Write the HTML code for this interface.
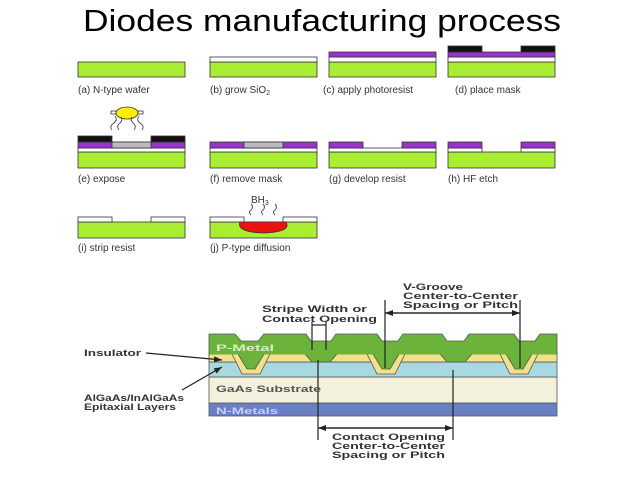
<!DOCTYPE html>
<html><head><meta charset="utf-8"><style>
html,body{margin:0;padding:0;background:#fff;}
svg{display:block;}
text{font-family:"Liberation Sans",sans-serif;}
</style></head><body>
<svg width="638" height="479" viewBox="0 0 638 479" xmlns="http://www.w3.org/2000/svg">
<defs>
<marker id="ar" markerWidth="8" markerHeight="6" refX="8" refY="3" orient="auto" markerUnits="userSpaceOnUse"><path d="M0,0 L8,3 L0,6 z" fill="#222"/></marker>
</defs>
<text x="83" y="31" font-size="31" fill="#000" textLength="478" lengthAdjust="spacingAndGlyphs">Diodes manufacturing process</text>

<g stroke="#333" stroke-width="0.8">
<rect x="78" y="62" width="107" height="15" fill="#aaee33"/>
<rect x="210" y="62" width="107" height="15" fill="#aaee33"/>
<rect x="210" y="57" width="107" height="5" fill="#fff"/>
<rect x="329" y="62" width="107" height="15" fill="#aaee33"/>
<rect x="329" y="57" width="107" height="5" fill="#fff"/>
<rect x="329" y="52" width="107" height="5" fill="#9933cc"/>
<rect x="448" y="62" width="107" height="15" fill="#aaee33"/>
<rect x="448" y="57" width="107" height="5" fill="#fff"/>
<rect x="448" y="52" width="107" height="5" fill="#9933cc"/>
<rect x="448" y="46" width="34" height="6" fill="#111"/>
<rect x="521" y="46" width="34" height="6" fill="#111"/>
<rect x="78" y="152" width="107" height="16" fill="#aaee33"/>
<rect x="78" y="148" width="107" height="4" fill="#fff"/>
<rect x="78" y="142" width="107" height="6" fill="#9933cc"/>
<rect x="112" y="142" width="39" height="6" fill="#bbb"/>
<rect x="78" y="136" width="34" height="6" fill="#111"/>
<rect x="151" y="136" width="34" height="6" fill="#111"/>
<ellipse cx="127" cy="113" rx="11" ry="6" fill="#ffee00"/>
<rect x="111" y="111" width="5" height="3" fill="#fff"/>
<rect x="138" y="111" width="5" height="3" fill="#fff"/>
<rect x="210" y="152" width="107" height="16" fill="#aaee33"/>
<rect x="210" y="148" width="107" height="4" fill="#fff"/>
<rect x="210" y="142" width="107" height="6" fill="#9933cc"/>
<rect x="244" y="142" width="39" height="6" fill="#bbb"/>
<rect x="329" y="152" width="107" height="16" fill="#aaee33"/>
<rect x="329" y="148" width="107" height="4" fill="#fff"/>
<rect x="329" y="142" width="34" height="6" fill="#9933cc"/>
<rect x="402" y="142" width="34" height="6" fill="#9933cc"/>
<rect x="448" y="152" width="107" height="16" fill="#aaee33"/>
<rect x="448" y="148" width="34" height="4" fill="#fff"/>
<rect x="521" y="148" width="34" height="4" fill="#fff"/>
<rect x="448" y="142" width="34" height="6" fill="#9933cc"/>
<rect x="521" y="142" width="34" height="6" fill="#9933cc"/>
<rect x="78" y="222" width="107" height="16" fill="#aaee33"/>
<rect x="78" y="217" width="34" height="5" fill="#fff"/>
<rect x="151" y="217" width="34" height="5" fill="#fff"/>
<rect x="210" y="222" width="107" height="16" fill="#aaee33"/>
<rect x="210" y="217" width="34" height="5" fill="#fff"/>
<rect x="283" y="217" width="34" height="5" fill="#fff"/>
<path d="M240,222 L286,222 Q292,232 263,233 Q236,232 240,222 z" fill="#ee1111"/>
</g>
<g fill="none" stroke="#444" stroke-width="0.9">
<path d="M112,130 q-3,-4 2,-7 q4,-3 1,-7"/>
<path d="M119,130 q-3,-4 1,-7 q3,-3 1,-6"/>
<path d="M134,130 q3,-4 -1,-7 q-3,-3 -1,-6"/>
<path d="M142,130 q3,-4 -2,-7 q-4,-3 -1,-7"/>
<path d="M251,215 q-3,-3 0,-5 q3,-3 0,-6"/>
<path d="M263,215 q-3,-3 0,-5 q3,-3 0,-6"/>
<path d="M275,215 q-3,-3 0,-5 q3,-3 0,-6"/>
</g>
<g font-size="10" fill="#333">
<text x="78" y="93">(a) N-type wafer</text>
<text x="210" y="93">(b) grow SiO<tspan font-size="7" dy="2">2</tspan></text>
<text x="323" y="93">(c) apply photoresist</text>
<text x="455" y="93">(d) place mask</text>
<text x="78" y="182">(e) expose</text>
<text x="210" y="182">(f) remove mask</text>
<text x="329" y="182">(g) develop resist</text>
<text x="448" y="182">(h) HF etch</text>
<text x="78" y="251">(i) strip resist</text>
<text x="210" y="251">(j) P-type diffusion</text>
<text x="251" y="203">BH<tspan font-size="7" dy="2">3</tspan></text>
</g>

<g stroke="#555" stroke-width="0.8">
<rect x="209" y="403" width="348" height="13" fill="#6a80c4"/>
<rect x="209" y="377" width="348" height="26" fill="#f3f0dc"/>
<rect x="209" y="362" width="348" height="15" fill="#a8d8e2"/>
<rect x="209" y="354" width="348" height="8" fill="#f2e08a"/>
<polygon points="232,354 270,354 260,374 242,374" fill="#f2e08a"/>
<polygon points="367,354 405,354 395,374 377,374" fill="#f2e08a"/>
<polygon points="500,354 538,354 528,374 510,374" fill="#f2e08a"/>
<polygon points="305,354 337,354 330,362 312,362" fill="#6bb33a"/>
<polygon points="440,354 472,354 465,362 447,362" fill="#6bb33a"/>
<path d="M209,334 L235,334 L241,341 L258,341 L264,334 L306,334 L311,341 L331,341 L336,334 L377,334 L382,341 L398,341 L403,334 L442,334 L447,341 L464,341 L469,334 L514,334 L519,341 L535,341 L540,334 L557,334 L557,354 L209,354 z" fill="#6bb33a"/>
<polygon points="238,354 264,354 255,369 247,369" fill="#6bb33a"/>
<polygon points="373,354 399,354 390,369 382,369" fill="#6bb33a"/>
<polygon points="506,354 532,354 523,369 515,369" fill="#6bb33a"/>
</g>
<rect x="210" y="353" width="346" height="1.5" fill="#6bb33a"/>
<g stroke="#222" stroke-width="1.2" fill="none">
<line x1="318" y1="360" x2="318" y2="440"/>
<line x1="453" y1="370" x2="453" y2="440"/>
<line x1="385" y1="300" x2="385" y2="368"/>
<line x1="520" y1="300" x2="520" y2="368"/>
<line x1="312" y1="322" x2="312" y2="350"/>
<line x1="326" y1="322" x2="326" y2="350"/>
<line x1="385" y1="313" x2="520" y2="313" marker-end="url(#ar)"/>
<line x1="520" y1="313" x2="385" y2="313" marker-end="url(#ar)"/>
<line x1="318" y1="428" x2="453" y2="428" marker-end="url(#ar)"/>
<line x1="453" y1="428" x2="318" y2="428" marker-end="url(#ar)"/>
<line x1="312" y1="325" x2="326" y2="325"/>
<line x1="146" y1="353" x2="222" y2="360" marker-end="url(#ar)"/>
<line x1="182" y1="390" x2="222" y2="367" marker-end="url(#ar)"/>
</g>
<g font-size="9.5" font-weight="bold" fill="#333">
<text x="403" y="290" textLength="60" lengthAdjust="spacingAndGlyphs">V-Groove</text>
<text x="403" y="299" textLength="115" lengthAdjust="spacingAndGlyphs">Center-to-Center</text>
<text x="403" y="308" textLength="115" lengthAdjust="spacingAndGlyphs">Spacing or Pitch</text>
<text x="262" y="312" textLength="105" lengthAdjust="spacingAndGlyphs">Stripe Width or</text>
<text x="262" y="322" textLength="115" lengthAdjust="spacingAndGlyphs">Contact Opening</text>
<text x="84" y="356" textLength="57" lengthAdjust="spacingAndGlyphs">Insulator</text>
<text x="84" y="401" textLength="100" lengthAdjust="spacingAndGlyphs">AlGaAs/InAlGaAs</text>
<text x="84" y="410" textLength="92" lengthAdjust="spacingAndGlyphs">Epitaxial Layers</text>
<text x="332" y="440" textLength="113" lengthAdjust="spacingAndGlyphs">Contact Opening</text>
<text x="332" y="449" textLength="113" lengthAdjust="spacingAndGlyphs">Center-to-Center</text>
<text x="332" y="458" textLength="113" lengthAdjust="spacingAndGlyphs">Spacing or Pitch</text>
<text x="216" y="351" fill="#d8f0c0" textLength="58" lengthAdjust="spacingAndGlyphs">P-Metal</text>
<text x="216" y="392" fill="#555" textLength="105" lengthAdjust="spacingAndGlyphs">GaAs Substrate</text>
<text x="216" y="414" fill="#c8d0f0" textLength="62" lengthAdjust="spacingAndGlyphs">N-Metals</text>
</g>
</svg>
</body></html>
